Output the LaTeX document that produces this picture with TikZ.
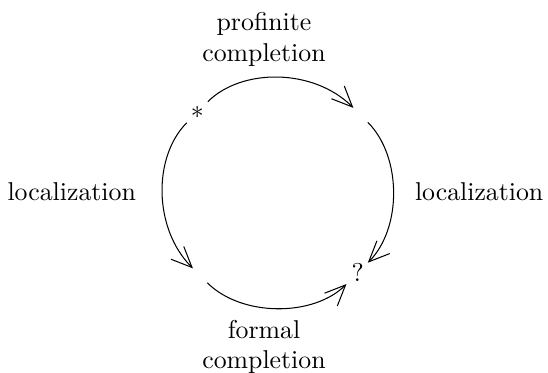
\documentclass[tikz,border=0pt]{standalone}
\usepackage{amsmath}
\usetikzlibrary{arrows.meta}
\tikzset{pt/.style = {inner sep=0pt}}
\tikzset{bent/.style = {-{Straight Barb[length=8pt,width=7pt]}, bend left=45}}
\tikzset{lbl/.style = {align=center, inner sep=0pt}}

\begin{document}
\begin{tikzpicture}
        \useasboundingbox (-3.780,-2.458) rectangle (3.684,2.622);

        \node [pt] (star) at (-1.093,1.093) {$*$};
        \node [pt] (q) at (1.093,-1.093) {$?$};
        \coordinate (tr) at (1.093,1.093);
        \coordinate (bl) at (-1.093,-1.093);

        \draw [bent, shorten <=5.8pt, shorten >=2.4pt] (star.center) to (tr);
        \draw [bent, shorten <=5.5pt, shorten >=5.5pt] (tr) to (q.center);
        \draw [bent, bend left=-45, shorten <=5.8pt, shorten >=2.4pt] (star.center) to (bl);
        \draw [bent, bend left=-45, shorten <=5.5pt, shorten >=6.2pt] (bl) to (q.center);

        \node [lbl] (top) at (-0.184,2.080) {profinite\\completion};
        \node [lbl] (bot) at (-0.184,-2.103) {formal\\completion};
        \node [lbl] (left) at (-2.803,0.007) {localization};
        \node [lbl] (right) at (2.747,0.007) {localization};
    \end{tikzpicture}
\end{document}
